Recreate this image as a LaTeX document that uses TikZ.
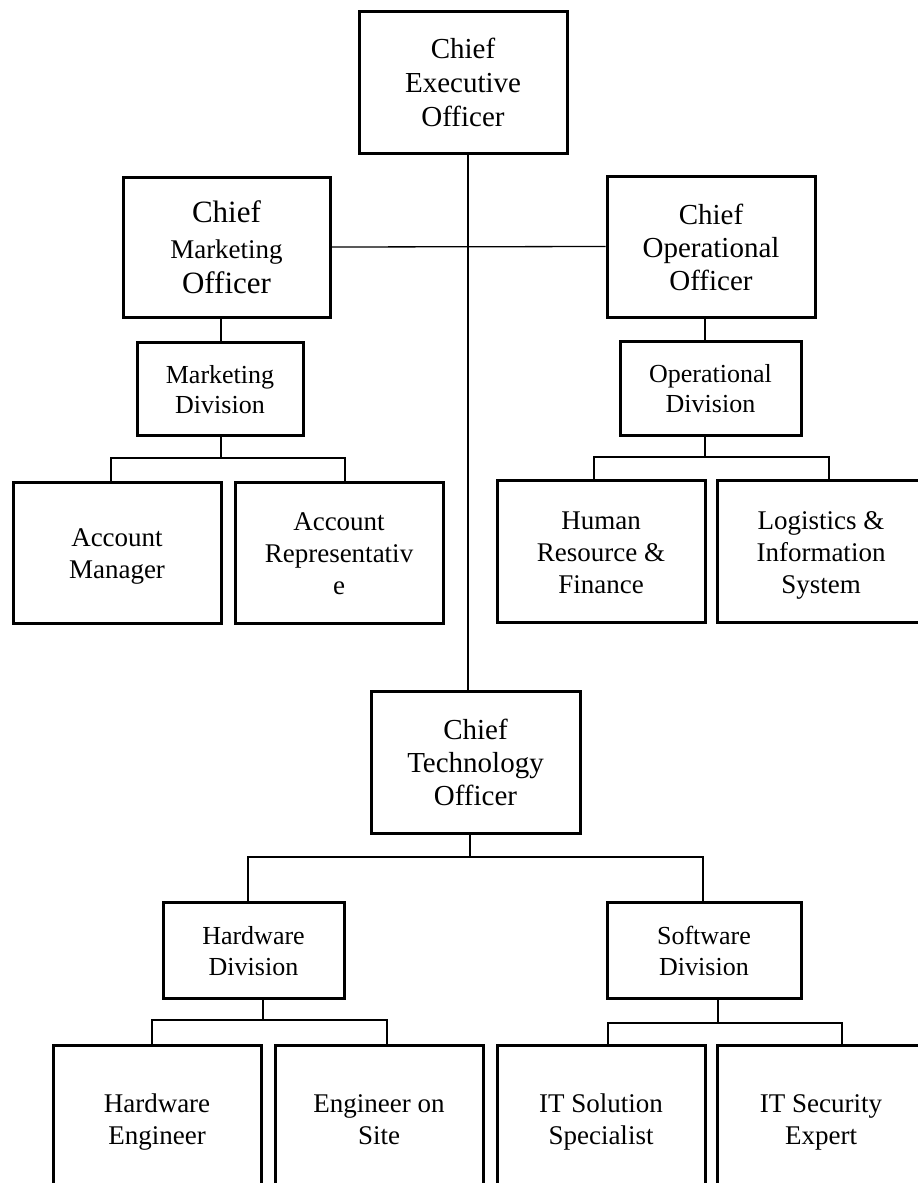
\documentclass[tikz,border=0pt]{standalone}
\usepackage{fontspec}
\setmainfont{Liberation Serif}
\usetikzlibrary{calc}
\newcommand\tstr{\rule{0pt}{0.82\baselineskip}}
\newcommand\bstr{\rule[-0.18\baselineskip]{0pt}{0pt}}
\begin{document}
\begin{tikzpicture}[x=1pt,y=-1pt,
  box/.style={draw=black,line width=3pt,rectangle,inner sep=0pt,align=center,
    minimum width=#1},
  box/.default=208pt,
  conn/.style={draw=black,line width=1.3pt}]
\useasboundingbox (0,0) rectangle (918,1183);
\clip (0,0) rectangle (918,1183);
\fill[white] (0,0) rectangle (918,1183);
% top level
\node[box=208pt,minimum height=142pt,font=\fontsize{29}{34}\selectfont] (ceo) at (463,82) {\tstr Chief\\Executive\\Officer\bstr};
\node[box=207pt,minimum height=140pt,font=\fontsize{31}{35.5}\selectfont] (cmo) at (226.5,247)
  {\tstr Chief\\{\fontsize{27}{35.5}\selectfont Marketing}\\Officer\bstr};
\node[box=208pt,minimum height=141pt,font=\fontsize{29}{33}\selectfont] (coo) at (711,246.5) {\tstr Chief\\Operational\\Officer\bstr};
\node[box=166pt,minimum height=93pt,font=\fontsize{26}{30}\selectfont] (mkt) at (220,388.5) {\tstr Marketing\\Division\bstr};
\node[box=181pt,minimum height=94pt,font=\fontsize{26}{30}\selectfont] (opd) at (710.5,388) {\tstr Operational\\Division\bstr};
% second row
\node[box,minimum height=141pt,font=\fontsize{27}{32}\selectfont] (am) at (117,552.5) {\tstr Account\\Manager\bstr};
\node[box,minimum height=141pt,font=\fontsize{27}{32}\selectfont] (ar) at (339,552.5) {\tstr Account\\Representativ\\e\bstr};
\node[box,minimum height=142pt,font=\fontsize{27}{32}\selectfont] (hr) at (601,551) {\tstr Human\\Resource \&\\Finance\bstr};
\node[box,minimum height=142pt,font=\fontsize{27}{32}\selectfont] (lg) at (821,551) {\tstr Logistics \&\\Information\\System\bstr};
% CTO
\node[box=209pt,minimum height=142pt,font=\fontsize{29}{33}\selectfont] (cto) at (475.5,762) {\tstr Chief\\Technology\\Officer\bstr};
\node[box=181pt,minimum height=96pt,font=\fontsize{26}{31}\selectfont] (hwd) at (253.5,950) {\tstr Hardware\\Division\bstr};
\node[box=194pt,minimum height=96pt,font=\fontsize{26}{31}\selectfont] (swd) at (704,950) {\tstr Software\\Division\bstr};
% bottom row
\node[box,minimum height=146pt,font=\fontsize{27}{32}\selectfont] (he) at (157,1118) {\tstr Hardware\\Engineer\bstr};
\node[box,minimum height=146pt,font=\fontsize{27}{32}\selectfont] (es) at (379,1118) {\tstr Engineer on\\Site\bstr};
\node[box,minimum height=146pt,font=\fontsize{27}{32}\selectfont] (its) at (601,1118) {\tstr IT Solution\\Specialist\bstr};
\node[box,minimum height=146pt,font=\fontsize{27}{32}\selectfont] (sec) at (821,1118) {\tstr IT Security\\Expert\bstr};
% junction coordinates
\coordinate (spine) at (468,0);
\coordinate (mbar) at (221,458);
\coordinate (obar) at (705,457);
\coordinate (cbar) at (470,857);
\coordinate (hbar) at (263,1020);
\coordinate (sbar) at (718,1023);
% connectors
\draw[conn] (ceo.south -| spine) -- (cto.north -| spine);
\draw[conn] (cmo.east) -- (coo.west);
\draw[conn] ([xshift=1pt]mkt.north |- cmo.south) -- ([xshift=1pt]mkt.north);
\draw[conn] ([xshift=-5.5pt]opd.north |- coo.south) -- ([xshift=-5.5pt]opd.north);
\draw[conn] (mkt.south -| mbar) -- (mbar);
\draw[conn] ([xshift=-6pt]am.north) |- (mbar) -| ([xshift=6pt]ar.north);
\draw[conn] (opd.south -| obar) -- (obar);
\draw[conn] ([xshift=-7pt]hr.north) |- (obar) -| ([xshift=8pt]lg.north);
\draw[conn] (cto.south -| cbar) -- (cbar);
\draw[conn] ([xshift=-5.5pt]hwd.north) |- (cbar) -| ([xshift=-1pt]swd.north);
\draw[conn] (hwd.south -| hbar) -- (hbar);
\draw[conn] ([xshift=-5pt]he.north) |- (hbar) -| ([xshift=8pt]es.north);
\draw[conn] (swd.south -| sbar) -- (sbar);
\draw[conn] ([xshift=7pt]its.north) |- (sbar) -| ([xshift=21pt]sec.north);
\end{tikzpicture}
\end{document}
